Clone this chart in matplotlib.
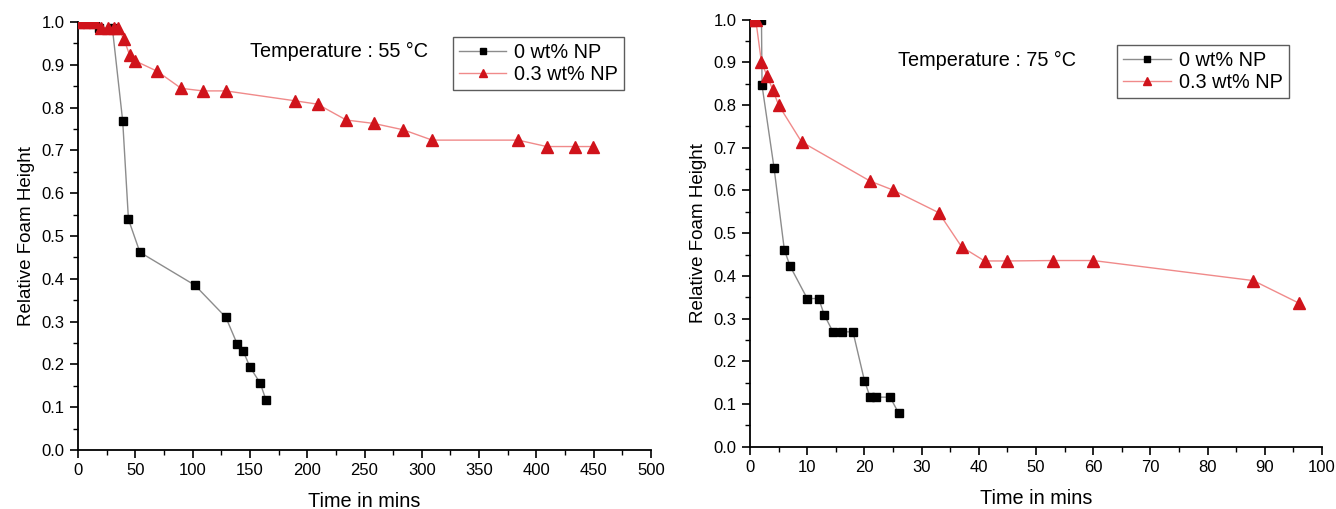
import matplotlib
matplotlib.use('Agg')
import matplotlib.pyplot as plt
from matplotlib.ticker import MultipleLocator

plt.rcParams['font.family'] = ['Liberation Sans', 'DejaVu Sans']

# 55 C data
t55_np0 = [0, 5, 10, 15, 18, 30, 39, 44, 54, 102, 129, 139, 144, 150, 159, 164]
h55_np0 = [1.0, 1.0, 1.0, 1.0, 0.985, 0.985, 0.768, 0.539, 0.462, 0.385, 0.31, 0.247, 0.232, 0.194, 0.156, 0.117]
t55_np3 = [0, 5, 10, 15, 20, 26, 31, 35, 40, 45, 50, 69, 90, 109, 129, 189, 209, 234, 258, 284, 309, 384, 409, 434, 449]
h55_np3 = [1.0, 1.0, 1.0, 1.0, 0.987, 0.985, 0.985, 0.985, 0.96, 0.923, 0.909, 0.885, 0.845, 0.839, 0.839, 0.816,
           0.808, 0.771, 0.763, 0.748, 0.724, 0.724, 0.709, 0.709, 0.709]

# 75 C data
t75_np0 = [0, 2, 2.1, 4.2, 6, 7, 10, 12, 13, 14.5, 16, 18, 20, 21, 22, 24.5, 26]
h75_np0 = [1.0, 1.0, 0.846, 0.653, 0.461, 0.423, 0.347, 0.347, 0.308, 0.269, 0.269, 0.269, 0.155, 0.116, 0.116,
           0.116, 0.078]
t75_np3 = [0, 1, 2, 3, 4, 5, 9, 21, 25, 33, 37, 41, 45, 53, 60, 88, 96]
h75_np3 = [1.0, 1.0, 0.9, 0.868, 0.835, 0.8, 0.714, 0.622, 0.601, 0.548, 0.468, 0.435, 0.435, 0.436, 0.436, 0.389,
           0.336]

labels = ['0 wt% NP', '0.3 wt% NP']

fig = plt.figure(figsize=(13.36, 5.09), dpi=100)
ax1 = fig.add_axes([0.0584, 0.1159, 0.4289, 0.8409])
ax2 = fig.add_axes([0.5614, 0.1224, 0.4281, 0.8389])

panels = [
    (ax1, t55_np0, h55_np0, t55_np3, h55_np3, 500, 50, 25, 'Temperature : 55 \u00b0C', (150, 0.93), (0.654, 0.965)),
    (ax2, t75_np0, h75_np0, t75_np3, h75_np3, 100, 10, 5, 'Temperature : 75 \u00b0C', (25.9, 0.905), (0.642, 0.941)),
]

for ax, tx0, hy0, tx3, hy3, xmax, xmaj, xmin, temp, tpos, lpos in panels:
    ax.plot(tx0, hy0, '-', color='#8c8c8c', lw=1.0, marker='s', markersize=6,
            markerfacecolor='black', markeredgecolor='black', label=labels[0], zorder=3)
    ax.plot(tx3, hy3, '-', color='#f08a8a', lw=1.0, marker='^', markersize=8,
            markerfacecolor='#d0131b', markeredgecolor='#d0131b', label=labels[1], zorder=4)
    ax.set_xlim(0, xmax)
    ax.set_ylim(0, 1.0)
    ax.xaxis.set_major_locator(MultipleLocator(xmaj))
    ax.xaxis.set_minor_locator(MultipleLocator(xmin))
    ax.yaxis.set_major_locator(MultipleLocator(0.1))
    ax.yaxis.set_minor_locator(MultipleLocator(0.05))
    ax.yaxis.set_major_formatter(plt.FormatStrFormatter('%.1f'))
    ax.spines['top'].set_visible(False)
    ax.spines['right'].set_visible(False)
    for s in ('left', 'bottom'):
        ax.spines[s].set_linewidth(1.3)
    ax.tick_params(which='major', direction='out', length=6, width=1.2, labelsize=12)
    ax.tick_params(which='minor', direction='out', length=3.5, width=1.0)
    ax.set_xlabel('Time in mins', fontsize=14.3, labelpad=10)
    ax.set_ylabel('Relative Foam Height', fontsize=13.5, labelpad=5)
    ax.text(tpos[0], tpos[1], temp, fontsize=14.3, va='center', ha='left')
    leg = ax.legend(loc='upper left', bbox_to_anchor=lpos, fontsize=14.3, frameon=True, fancybox=False,
                    edgecolor='#333333', borderaxespad=0, handlelength=2.4, labelspacing=0.15,
                    borderpad=0.3, handletextpad=0.4, markerscale=0.65)
    leg.get_frame().set_linewidth(1.0)

plt.savefig('out.png', dpi=100)
